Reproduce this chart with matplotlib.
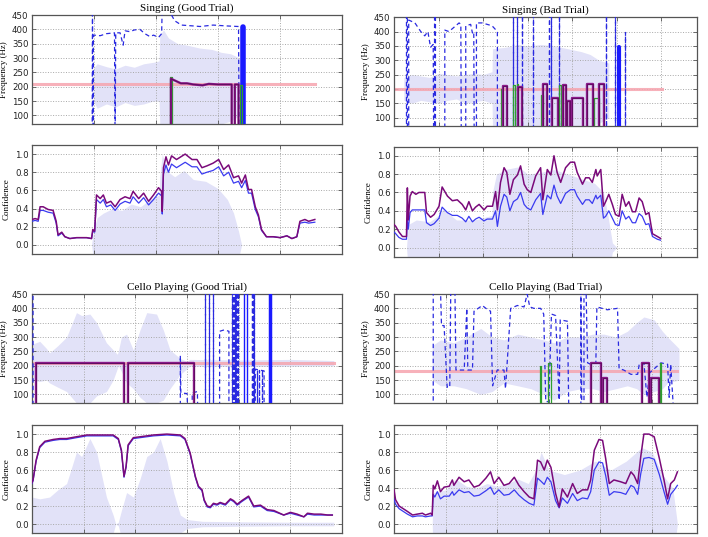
import numpy as np
import matplotlib.pyplot as plt
from matplotlib.ticker import FormatStrFormatter

# ---------------- Singing (Good Trial) ----------------
sg_wave_t = [0.99, 1.05, 1.2, 1.35, 1.5, 1.65, 1.8, 1.95, 2.05, 2.06, 2.12, 2.2, 2.35, 2.5, 2.7, 2.9, 3.05, 3.2, 3.35]
sg_wave_hi = [265, 280, 270, 262, 275, 268, 280, 285, 290, 380, 398, 370, 350, 345, 335, 330, 320, 315, 300]
sg_wave_lo = [150, 125, 140, 130, 145, 135, 140, 150, 150, 70, 70, 70, 70, 70, 70, 70, 70, 80, 100]
sg_dash_t = [0.97, 0.975, 0.985, 0.99, 1.10, 1.20, 1.33, 1.34, 1.35, 1.42, 1.47, 1.50, 1.58, 1.65, 1.74, 1.82,
             1.90, 1.96, 2.04, 2.09, 2.10, 2.20, 2.30, 2.41, 2.60, 2.71, 2.92, 3.14, 3.33, 3.34]
sg_dash_f = [0, 480, 0, 380, 378, 385, 388, 0, 388, 388, 345, 395, 392, 398, 400, 385,
             375, 380, 372, 385, 480, 470, 430, 415, 412, 410, 415, 412, 410, 0]
sg_spike_t = []
sg_spike_top = []
sg_bar_t = [3.41]
sg_bar_top = [410]
sg_bar_w = [4.0]
sg_purple_t = [2.24, 2.24, 2.40, 2.50, 2.60, 2.75, 2.85, 3.00, 3.22, 3.22, 3.27, 3.27, 3.33, 3.33]
sg_purple_f = [0, 228, 212, 212, 208, 205, 210, 208, 208, 0, 0, 208, 208, 0]
sg_green_boxes = [(2.23, 2.25, 233), (3.36, 3.39, 205)]
sg_target = 208
sg_target_end = 4.56
sg_amp_t = [0.96, 0.99, 1.05, 1.15, 1.3, 1.45, 1.6, 1.75, 1.9, 2.05, 2.06, 2.10, 2.14, 2.2, 2.3, 2.45, 2.6,
            2.8, 3.0, 3.15, 3.25, 3.33, 3.38]
sg_amp = [0.0, 0.15, 0.3, 0.35, 0.4, 0.38, 0.45, 0.42, 0.5, 0.55, 0.75, 1.0, 0.9, 0.8, 0.75, 0.82, 0.72,
          0.7, 0.62, 0.5, 0.35, 0.15, 0.0]
sg_conf_t = [0.00, 0.05, 0.10, 0.13, 0.18, 0.26, 0.34, 0.39, 0.42, 0.48,
             0.53, 0.61, 0.72, 0.88, 0.96, 0.98, 1.01, 1.04, 1.10, 1.15,
             1.20, 1.27, 1.34, 1.42, 1.50, 1.58, 1.63, 1.72, 1.80, 1.88,
             1.96, 2.04, 2.09, 2.10, 2.12, 2.16, 2.20, 2.25, 2.33, 2.47,
             2.58, 2.66, 2.74, 2.82, 2.92, 3.01, 3.09, 3.17, 3.25, 3.33,
             3.38, 3.44, 3.49, 3.54, 3.60, 3.65, 3.70, 3.78, 3.89, 4.00,
             4.11, 4.19, 4.27, 4.32, 4.40, 4.46, 4.56]
sg_conf_purple = [0.28, 0.29, 0.28, 0.42, 0.42, 0.39, 0.38, 0.26, 0.11, 0.14,
                  0.09, 0.07, 0.08, 0.08, 0.07, 0.17, 0.15, 0.55, 0.51, 0.55,
                  0.46, 0.48, 0.42, 0.50, 0.53, 0.51, 0.59, 0.51, 0.57, 0.48,
                  0.55, 0.63, 0.59, 0.37, 0.85, 0.97, 0.88, 0.98, 0.94, 1.00,
                  0.94, 0.94, 0.85, 0.87, 0.90, 0.94, 0.83, 0.88, 0.74, 0.76,
                  0.68, 0.77, 0.61, 0.61, 0.42, 0.33, 0.17, 0.09, 0.09, 0.08,
                  0.10, 0.07, 0.09, 0.26, 0.28, 0.26, 0.28]
sg_conf_blue = [0.26, 0.27, 0.26, 0.38, 0.38, 0.36, 0.35, 0.24, 0.10, 0.13,
                0.09, 0.07, 0.08, 0.08, 0.07, 0.15, 0.14, 0.50, 0.46, 0.50,
                0.42, 0.44, 0.38, 0.45, 0.48, 0.46, 0.53, 0.46, 0.52, 0.44,
                0.50, 0.57, 0.54, 0.34, 0.78, 0.88, 0.80, 0.89, 0.85, 0.91,
                0.86, 0.86, 0.78, 0.80, 0.82, 0.86, 0.76, 0.80, 0.68, 0.70,
                0.63, 0.71, 0.57, 0.57, 0.39, 0.31, 0.16, 0.09, 0.09, 0.08,
                0.10, 0.07, 0.09, 0.24, 0.25, 0.24, 0.25]

# ---------------- Singing (Bad Trial) ----------------
sb_wave_t = [0.22, 0.4, 0.6, 0.8, 1.0, 1.2, 1.4, 1.6, 1.8, 2.0, 2.2, 2.21, 2.5, 2.8, 3.0, 3.3, 3.6, 3.9, 4.2, 4.4, 4.6, 4.82]
sb_wave_hi = [240, 250, 245, 240, 255, 250, 245, 250, 255, 250, 260, 340, 345, 355, 350, 355, 350, 340, 330, 320, 300, 290]
sb_wave_lo = [160, 150, 160, 155, 150, 160, 165, 150, 155, 160, 150, 70, 70, 70, 70, 70, 70, 70, 70, 70, 80, 100]
sb_dash_t = [0.28, 0.28, 0.30, 0.30, 0.33, 0.33, 0.47, 0.60, 0.69, 0.76, 0.82, 0.88, 0.89, 0.91, 0.91, 0.93, 0.93,
             1.14, 1.14, 1.23, 1.31, 1.46, 1.50, 1.51, 1.61, 1.61, 1.72, 1.76, 1.79, 1.80, 1.85, 1.85,
             1.98, 2.09, 2.20, 2.32, 2.32]
sb_dash_f = [0, 470, 470, 0, 0, 440, 430, 400, 385, 400, 345, 355, 0, 0, 470, 470, 0,
             0, 405, 400, 410, 430, 425, 0, 0, 420, 425, 395, 400, 0, 0, 430,
             430, 425, 420, 400, 0]
sb_spike_t = [2.68, 2.75, 2.88, 3.13, 3.48, 3.53, 3.70, 4.75, 4.97, 5.18]
sb_spike_top = [470, 470, 470, 470, 470, 470, 470, 470, 470, 400]
sb_bar_t = [5.06]
sb_bar_top = [345]
sb_bar_w = [3.0]
sb_purple_boxes = [(2.45, 2.54, 210), (2.79, 2.88, 208), (3.35, 3.43, 218), (3.55, 3.69, 167),
                   (3.80, 3.87, 212), (3.89, 3.96, 157), (4.00, 4.23, 170), (4.34, 4.47, 217),
                   (4.60, 4.71, 218)]
sb_green_boxes = [(2.39, 2.43, 200), (2.66, 2.72, 212), (2.75, 2.79, 218), (3.29, 3.35, 178),
                  (3.70, 3.75, 215), (4.49, 4.60, 170)]
sb_target = 198
sb_target_end = 6.02
sb_amp_t = [0.28, 0.32, 0.5, 0.8, 1.0, 1.1, 1.4, 1.8, 2.2, 2.21, 2.3, 2.5, 2.8, 3.0, 3.3, 3.6, 3.9, 4.2,
            4.5, 4.7, 4.8, 4.9, 5.0]
sb_amp = [0.0, 0.25, 0.3, 0.28, 0.35, 0.42, 0.3, 0.3, 0.35, 0.6, 0.8, 0.85, 0.88, 0.8, 0.82, 0.85, 0.8, 0.75,
          0.7, 0.6, 0.35, 0.05, 0.0]
sb_conf_t = [0.00, 0.04, 0.11, 0.19, 0.28, 0.30, 0.32, 0.36, 0.41, 0.49,
             0.56, 0.69, 0.73, 0.82, 0.90, 1.01, 1.08, 1.20, 1.31, 1.42,
             1.53, 1.61, 1.68, 1.76, 1.83, 1.91, 2.02, 2.09, 2.21, 2.28,
             2.32, 2.39, 2.47, 2.53, 2.60, 2.68, 2.77, 2.84, 2.92, 2.99,
             3.07, 3.18, 3.29, 3.34, 3.44, 3.52, 3.59, 3.66, 3.74, 3.85,
             3.96, 4.05, 4.11, 4.23, 4.30, 4.38, 4.45, 4.53, 4.56, 4.64,
             4.70, 4.75, 4.82, 4.90, 4.97, 5.05, 5.12, 5.20, 5.27, 5.35,
             5.42, 5.50, 5.57, 5.65, 5.72, 5.80, 5.91, 5.98]
sb_conf_purple = [0.25, 0.23, 0.17, 0.12, 0.12, 0.65, 0.30, 0.56, 0.61, 0.58,
                  0.60, 0.60, 0.38, 0.33, 0.36, 0.45, 0.66, 0.56, 0.51, 0.52,
                  0.47, 0.41, 0.50, 0.40, 0.44, 0.47, 0.41, 0.45, 0.45, 0.61,
                  0.41, 0.71, 0.87, 0.82, 0.58, 0.74, 0.79, 0.89, 0.69, 0.63,
                  0.60, 0.78, 0.87, 0.52, 0.85, 0.79, 1.00, 0.82, 0.71, 0.87,
                  0.93, 0.93, 0.82, 0.69, 0.76, 0.76, 0.71, 0.85, 0.78, 0.85,
                  0.45, 0.50, 0.58, 0.47, 0.36, 0.34, 0.58, 0.45, 0.50, 0.39,
                  0.39, 0.54, 0.50, 0.36, 0.38, 0.15, 0.12, 0.10]
sb_conf_blue = [0.17, 0.15, 0.11, 0.09, 0.09, 0.30, 0.20, 0.38, 0.41, 0.41,
                0.41, 0.41, 0.27, 0.24, 0.26, 0.32, 0.44, 0.38, 0.35, 0.35,
                0.32, 0.28, 0.34, 0.28, 0.31, 0.33, 0.29, 0.31, 0.31, 0.40,
                0.23, 0.45, 0.58, 0.55, 0.40, 0.50, 0.53, 0.60, 0.47, 0.43,
                0.41, 0.52, 0.59, 0.36, 0.57, 0.53, 0.68, 0.56, 0.48, 0.59,
                0.63, 0.63, 0.56, 0.47, 0.52, 0.52, 0.48, 0.57, 0.53, 0.57,
                0.32, 0.34, 0.40, 0.32, 0.25, 0.24, 0.40, 0.31, 0.34, 0.27,
                0.27, 0.37, 0.34, 0.25, 0.26, 0.12, 0.09, 0.08]

# ---------------- Cello Playing (Good Trial) ----------------
cg_wave_t = [0.0, 0.15, 0.28, 0.34, 0.5, 0.67, 0.86, 0.96, 1.12, 1.25, 1.44, 1.57, 1.65, 1.67, 1.73, 1.83,
             1.96, 2.09, 2.22, 2.41, 2.54, 2.67, 2.87, 3.0, 3.05, 4.0, 5.0, 5.84]
cg_wave_hi = [275, 285, 260, 245, 270, 300, 385, 375, 380, 350, 280, 255, 240, 250, 300, 310,
              255, 325, 385, 380, 325, 255, 225, 215, 222, 220, 222, 218]
cg_wave_lo = [150, 145, 150, 140, 125, 110, 70, 70, 70, 95, 110, 150, 190, 200, 180, 140,
              120, 90, 70, 70, 80, 120, 170, 190, 198, 197, 198, 200]
cg_dash_t = [0.02, 0.02, 2.87, 2.87, 2.88, 3.00, 3.02, 3.10, 3.10, 3.20, 3.21,
             3.63, 3.63, 3.72, 3.81, 3.81, 4.32, 4.32, 4.40, 4.49, 4.49]
cg_dash_f = [470, 0, 0, 235, 105, 103, 0, 0, 105, 110, 0,
             0, 320, 325, 320, 0, 0, 188, 185, 182, 0]
cg_spike_t = [3.35, 3.42, 3.51, 3.87, 3.89, 3.91, 3.93, 3.95, 3.97, 3.99, 4.26, 4.28, 4.30, 4.36, 4.40, 4.45]
cg_spike_top = [470, 470, 470, 470, 470, 470, 470, 470, 470, 470, 470, 470, 470, 185, 185, 185]
cg_bar_t = [4.10, 4.16, 4.60]
cg_bar_top = [470, 470, 470]
cg_bar_w = [1.0, 1.0, 2.5]
cg_purple_boxes = [(0.08, 1.78, 210), (1.86, 3.13, 210)]
cg_green_boxes = []
cg_target = 208
cg_target_end = 5.84
cg_amp_t = [0.0, 0.15, 0.34, 0.5, 0.67, 0.86, 0.96, 1.12, 1.25, 1.44, 1.57, 1.62, 1.67, 1.73, 1.83, 1.96,
            2.09, 2.22, 2.35, 2.48, 2.61, 2.74, 2.87, 3.0, 3.3, 4.0, 5.0, 5.84]
cg_amp = [0.3, 0.28, 0.3, 0.38, 0.45, 0.8, 0.75, 0.95, 0.8, 0.3, 0.1, 0.0, 0.02, 0.15, 0.35, 0.3,
          0.5, 0.75, 0.8, 0.95, 0.7, 0.35, 0.1, 0.05, 0.03, 0.025, 0.02, 0.02]
cg_conf_t = [0.00, 0.02, 0.08, 0.15, 0.25, 0.41, 0.54, 0.67, 0.86, 1.06,
             1.31, 1.57, 1.67, 1.73, 1.78, 1.82, 1.86, 1.96, 2.09, 2.35,
             2.61, 2.87, 2.96, 3.06, 3.16, 3.22, 3.29, 3.33, 3.39, 3.45,
             3.51, 3.58, 3.64, 3.74, 3.84, 3.90, 3.97, 4.06, 4.19, 4.29,
             4.42, 4.55, 4.68, 4.87, 5.00, 5.13, 5.26, 5.33, 5.46, 5.59,
             5.72, 5.81]
cg_conf_purple = [0.46, 0.49, 0.71, 0.86, 0.92, 0.94, 0.95, 0.95, 0.97, 0.99,
                  0.99, 0.99, 0.95, 0.82, 0.53, 0.64, 0.88, 0.96, 0.97, 0.99,
                  1.00, 0.99, 0.95, 0.79, 0.53, 0.42, 0.38, 0.27, 0.20, 0.19,
                  0.23, 0.22, 0.24, 0.22, 0.28, 0.26, 0.22, 0.26, 0.31, 0.20,
                  0.21, 0.16, 0.15, 0.10, 0.13, 0.11, 0.08, 0.12, 0.11, 0.11,
                  0.10, 0.10]
cg_conf_blue = [0.45, 0.48, 0.70, 0.85, 0.91, 0.93, 0.94, 0.94, 0.96, 0.98,
                0.98, 0.98, 0.94, 0.81, 0.52, 0.63, 0.87, 0.95, 0.96, 0.98,
                0.99, 0.98, 0.94, 0.78, 0.52, 0.41, 0.37, 0.26, 0.19, 0.18,
                0.22, 0.21, 0.23, 0.21, 0.27, 0.25, 0.21, 0.25, 0.30, 0.19,
                0.20, 0.15, 0.14, 0.10, 0.12, 0.10, 0.08, 0.11, 0.10, 0.10,
                0.10, 0.10]

# ---------------- Cello Playing (Bad Trial) ----------------
cb_wave_t = [0.74, 0.9, 1.16, 1.4, 1.68, 1.9, 2.13, 2.4, 2.65, 2.9, 3.10, 3.35, 3.62, 3.85, 4.07, 4.3,
             4.52, 4.7, 4.84, 5.04, 5.2, 5.30, 5.52]
cb_wave_hi = [270, 290, 280, 300, 330, 300, 290, 310, 300, 290, 280, 300, 300, 310, 310, 300,
              320, 350, 370, 360, 320, 300, 260]
cb_wave_lo = [150, 130, 130, 120, 100, 110, 140, 130, 120, 100, 80, 110, 120, 120, 110, 120,
              130, 120, 100, 110, 120, 140, 150]
cb_dash_t = [0.76, 0.76, 0.90, 0.92, 0.97, 1.03, 1.08, 1.10, 1.18, 1.20, 1.36, 1.41, 1.43, 1.52, 1.55,
             1.71, 1.78, 1.87, 1.91, 2.00, 2.13, 2.16, 2.26, 2.39, 2.52, 2.58, 2.63, 2.71, 2.84, 2.90,
             2.94, 3.00, 3.05, 3.13, 3.20, 3.22, 3.36, 3.39, 3.62, 3.62, 3.64, 3.68, 3.68, 3.72,
             3.75, 3.81, 3.91, 3.93, 4.13, 4.33, 4.36, 4.45, 4.59, 4.72, 4.75, 4.84, 4.90, 4.95,
             5.17, 5.30, 5.33, 5.36, 5.43]
cb_dash_f = [0, 470, 470, 340, 340, 125, 125, 470, 470, 185, 185, 400, 185, 185, 390,
             410, 400, 390, 130, 185, 185, 120, 400, 410, 405, 450, 405, 400, 400, 380,
             75, 75, 380, 375, 80, 360, 355, 0, 0, 470, 0, 0, 470, 470,
             210, 205, 210, 405, 395, 400, 190, 185, 170, 170, 205, 210, 90, 175,
             210, 205, 90, 205, 0]
cb_spike_t = []
cb_spike_top = []
cb_bar_t = []
cb_bar_top = []
cb_bar_w = []
cb_purple_boxes = [(3.82, 4.01, 208), (4.04, 4.12, 158), (4.81, 4.94, 208), (4.97, 5.14, 158)]
cb_green_boxes = [(2.82, 2.85, 200), (2.98, 3.05, 210), (5.15, 5.18, 210)]
cb_target = 182
cb_target_end = 5.49
cb_amp_t = [0.74, 0.76, 1.0, 1.2, 1.4, 1.6, 1.8, 2.0, 2.2, 2.4, 2.6, 2.75, 2.85, 3.0, 3.3, 3.6, 3.9, 4.2,
            4.5, 4.8, 5.0, 5.2, 5.4, 5.49]
cb_amp = [0.0, 0.35, 0.38, 0.5, 0.42, 0.4, 0.45, 0.42, 0.45, 0.5, 0.45, 0.6, 0.8, 0.6, 0.55, 0.6, 0.7, 0.6,
          0.7, 0.85, 0.8, 0.55, 0.4, 0.0]
cb_conf_t = [0.00, 0.03, 0.10, 0.26, 0.36, 0.45, 0.55, 0.61, 0.71, 0.74,
             0.76, 0.79, 0.84, 0.90, 0.97, 1.07, 1.13, 1.16, 1.26, 1.36,
             1.45, 1.55, 1.65, 1.78, 1.87, 1.94, 2.03, 2.13, 2.23, 2.33,
             2.42, 2.52, 2.62, 2.71, 2.78, 2.84, 2.91, 2.97, 3.04, 3.13,
             3.20, 3.26, 3.36, 3.46, 3.55, 3.65, 3.75, 3.81, 3.88, 3.97,
             4.04, 4.10, 4.17, 4.26, 4.39, 4.49, 4.59, 4.65, 4.72, 4.78,
             4.84, 4.94, 5.04, 5.14, 5.23, 5.30, 5.36, 5.43, 5.49]
cb_conf_purple = [0.38, 0.27, 0.20, 0.14, 0.10, 0.11, 0.12, 0.10, 0.12, 0.10,
                  0.43, 0.39, 0.48, 0.36, 0.41, 0.42, 0.49, 0.43, 0.52, 0.47,
                  0.49, 0.41, 0.43, 0.51, 0.58, 0.45, 0.52, 0.43, 0.45, 0.52,
                  0.43, 0.36, 0.30, 0.28, 0.71, 0.69, 0.60, 0.71, 0.63, 0.34,
                  0.19, 0.39, 0.30, 0.45, 0.34, 0.38, 0.38, 0.49, 0.82, 0.94,
                  0.93, 0.73, 0.45, 0.49, 0.47, 0.45, 0.58, 0.54, 0.45, 0.75,
                  1.00, 1.00, 0.97, 0.73, 0.49, 0.28, 0.45, 0.49, 0.58]
cb_conf_blue = [0.28, 0.22, 0.17, 0.11, 0.08, 0.09, 0.09, 0.08, 0.09, 0.09,
                0.33, 0.30, 0.36, 0.28, 0.31, 0.31, 0.36, 0.32, 0.38, 0.35,
                0.36, 0.31, 0.32, 0.37, 0.41, 0.33, 0.38, 0.32, 0.33, 0.38,
                0.32, 0.27, 0.23, 0.21, 0.51, 0.48, 0.44, 0.52, 0.47, 0.26,
                0.18, 0.29, 0.23, 0.34, 0.26, 0.29, 0.28, 0.36, 0.60, 0.69,
                0.68, 0.54, 0.32, 0.36, 0.35, 0.33, 0.43, 0.41, 0.33, 0.56,
                0.73, 0.74, 0.72, 0.55, 0.36, 0.22, 0.33, 0.38, 0.43]

LAV = '#e2e2f8'
DASH_BLUE = '#2a2ae0'
PURPLE = '#8a1a8a'
PURPLE_DARK = '#3a003a'
GREEN = '#2e9e2e'
PINK = '#f6a4ae'
CONF_PURPLE = '#7a0a7a'
CONF_BLUE = '#3a3af0'

SERIF = ['Liberation Serif', 'DejaVu Serif']


def boxes_path(boxes):
    t, f = [], []
    for t0, t1, fr in boxes:
        t += [t0, t0, t1, t1]
        f += [0, fr, fr, 0]
    return t, f


def spikes_path(ts, tops):
    t, f = [], []
    for x, top in zip(ts, tops):
        t += [x, x, x]
        f += [0, top, 0]
    return t, f


def style_axes(ax, xmax):
    ax.set_xlim(0, xmax)
    ax.set_xticks(np.arange(1, xmax, 1.0))
    ax.set_xticklabels([])
    ax.grid(True, color='#a8a8a8', linestyle=':', linewidth=0.7)
    for s in ax.spines.values():
        s.set_color('#555555')
        s.set_linewidth(0.9)
    ax.tick_params(direction='in', length=3, width=0.6, color='#555555',
                   labelsize=6.2, labelcolor='#222222', pad=2.5,
                   top=True, right=True)


def freq_panel(ax, title, xmax, wave_t, wave_lo, wave_hi, dash_t, dash_f, spike_t, spike_top,
               bar_t, bar_top, bar_w, green_t, green_f, purple_t, purple_f, target, target_end):
    ax.fill_between(wave_t, wave_lo, wave_hi, color=LAV, linewidth=0, zorder=1)
    ax.plot([0, target_end], [target, target], color=PINK, lw=2.2, alpha=0.85, zorder=2)
    ax.plot(dash_t, dash_f, color=DASH_BLUE, lw=0.9, dashes=(3.5, 2.5), zorder=3)
    st, sf = spikes_path(spike_t, spike_top)
    if st:
        ax.plot(st, sf, color=DASH_BLUE, lw=0.9, dashes=(3.5, 2.5), zorder=3)
    for x, top, w in zip(bar_t, bar_top, bar_w):
        ax.plot([x, x], [0, top], color='#1a1aff', lw=w, solid_capstyle='round', zorder=3)
    if green_t:
        ax.plot(green_t, green_f, color=GREEN, lw=0.9, zorder=4)
    ax.plot(purple_t, purple_f, color=PURPLE, lw=1.7, zorder=5)
    ax.plot(purple_t, purple_f, color=PURPLE_DARK, lw=0.5, alpha=0.7, zorder=6)
    style_axes(ax, xmax)
    ax.set_ylim(70, 450)
    ax.set_yticks(np.arange(100, 451, 50))
    ax.set_ylabel('Frequency (Hz)', family=SERIF, fontsize=6.5, labelpad=3)
    ax.set_title(title, family=SERIF, fontsize=8, pad=3)


def conf_panel(ax, xmax, amp_t, amp, conf_t, conf_purple, conf_blue):
    amp = np.array(amp)
    ax.fill_between(amp_t, -amp, amp, color=LAV, linewidth=0, zorder=1)
    ax.plot(conf_t, conf_blue, color=CONF_BLUE, lw=0.9, zorder=3)
    ax.plot(conf_t, conf_purple, color=CONF_PURPLE, lw=1.1, zorder=4)
    style_axes(ax, xmax)
    ax.set_ylim(-0.1, 1.1)
    ax.set_yticks(np.arange(0, 1.01, 0.2))
    ax.yaxis.set_major_formatter(FormatStrFormatter('%.1f'))
    ax.set_ylabel('Confidence', family=SERIF, fontsize=6.5, labelpad=3)


fig = plt.figure(figsize=(7.08, 5.37), dpi=100)

# axes rectangles [left, bottom, width, height] in figure fractions
ax_sg_f = fig.add_axes([0.0452, 0.769, 0.438, 0.203])
ax_sg_c = fig.add_axes([0.0452, 0.527, 0.438, 0.203])
ax_sb_f = fig.add_axes([0.5565, 0.765, 0.428, 0.203])
ax_sb_c = fig.add_axes([0.5565, 0.522, 0.428, 0.205])
ax_cg_f = fig.add_axes([0.0452, 0.2495, 0.438, 0.203])
ax_cg_c = fig.add_axes([0.0452, 0.0074, 0.438, 0.201])
ax_cb_f = fig.add_axes([0.5565, 0.2495, 0.428, 0.203])
ax_cb_c = fig.add_axes([0.5565, 0.0074, 0.428, 0.201])

sg_green_t, sg_green_f = boxes_path(sg_green_boxes)
freq_panel(ax_sg_f, 'Singing (Good Trial)', 5.0, sg_wave_t, sg_wave_lo, sg_wave_hi,
           sg_dash_t, sg_dash_f, sg_spike_t, sg_spike_top, sg_bar_t, sg_bar_top, sg_bar_w,
           sg_green_t, sg_green_f, sg_purple_t, sg_purple_f, sg_target, sg_target_end)
conf_panel(ax_sg_c, 5.0, sg_amp_t, sg_amp, sg_conf_t, sg_conf_purple, sg_conf_blue)

sb_green_t, sb_green_f = boxes_path(sb_green_boxes)
sb_purple_t, sb_purple_f = boxes_path(sb_purple_boxes)
freq_panel(ax_sb_f, 'Singing (Bad Trial)', 6.8, sb_wave_t, sb_wave_lo, sb_wave_hi,
           sb_dash_t, sb_dash_f, sb_spike_t, sb_spike_top, sb_bar_t, sb_bar_top, sb_bar_w,
           sb_green_t, sb_green_f, sb_purple_t, sb_purple_f, sb_target, sb_target_end)
conf_panel(ax_sb_c, 6.8, sb_amp_t, sb_amp, sb_conf_t, sb_conf_purple, sb_conf_blue)

cg_green_t, cg_green_f = boxes_path(cg_green_boxes)
cg_purple_t, cg_purple_f = boxes_path(cg_purple_boxes)
freq_panel(ax_cg_f, 'Cello Playing (Good Trial)', 6.0, cg_wave_t, cg_wave_lo, cg_wave_hi,
           cg_dash_t, cg_dash_f, cg_spike_t, cg_spike_top, cg_bar_t, cg_bar_top, cg_bar_w,
           cg_green_t, cg_green_f, cg_purple_t, cg_purple_f, cg_target, cg_target_end)
conf_panel(ax_cg_c, 6.0, cg_amp_t, cg_amp, cg_conf_t, cg_conf_purple, cg_conf_blue)

cb_green_t, cb_green_f = boxes_path(cb_green_boxes)
cb_purple_t, cb_purple_f = boxes_path(cb_purple_boxes)
freq_panel(ax_cb_f, 'Cello Playing (Bad Trial)', 5.87, cb_wave_t, cb_wave_lo, cb_wave_hi,
           cb_dash_t, cb_dash_f, cb_spike_t, cb_spike_top, cb_bar_t, cb_bar_top, cb_bar_w,
           cb_green_t, cb_green_f, cb_purple_t, cb_purple_f, cb_target, cb_target_end)
conf_panel(ax_cb_c, 5.87, cb_amp_t, cb_amp, cb_conf_t, cb_conf_purple, cb_conf_blue)

fig.savefig('out.png', dpi=100)
